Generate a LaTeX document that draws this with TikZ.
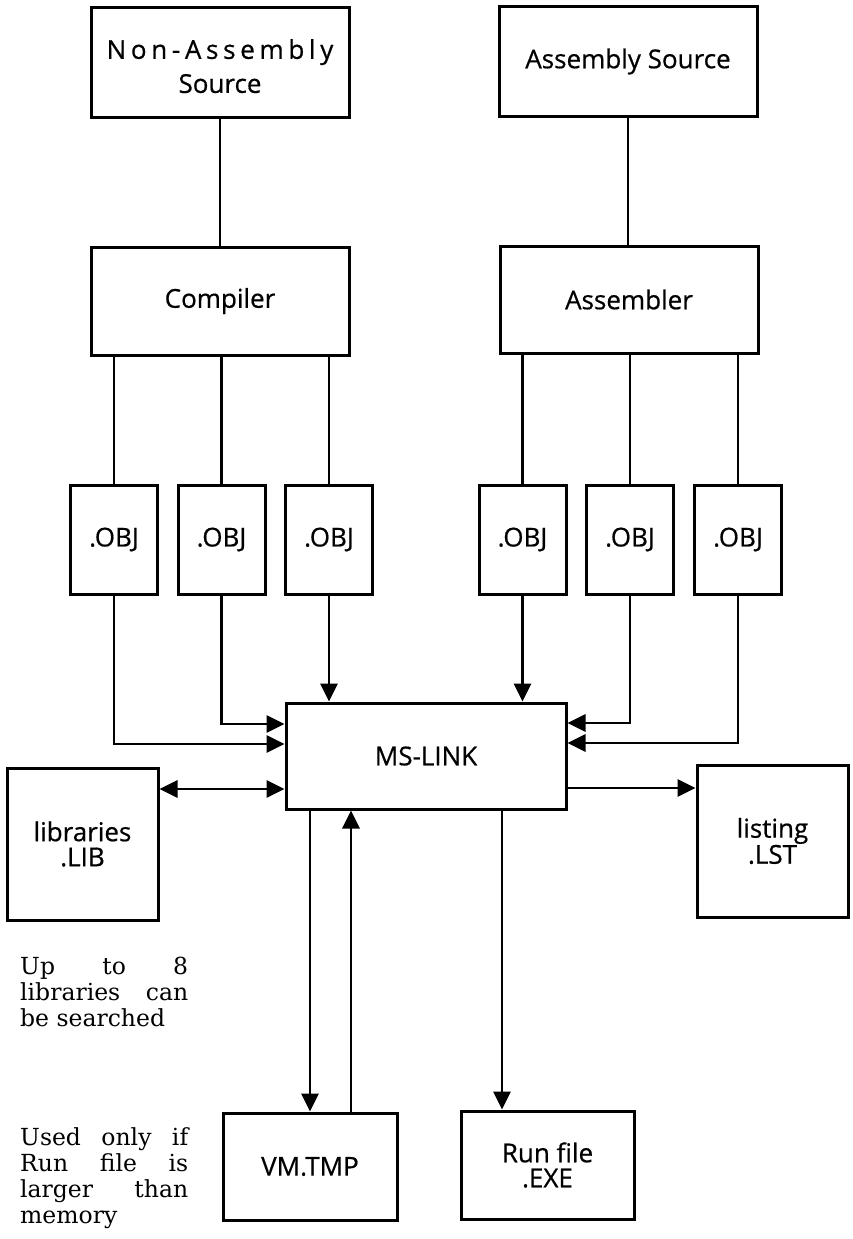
\documentclass[tikz,border=0pt]{standalone}
\usepackage{fontspec}
\setmainfont{DejaVu Serif}
\newfontfamily\boxfont[FakeBold=0.6]{Open Sans}
\newfontfamily\spacedfont[LetterSpace=18,FakeBold=0.6]{Open Sans}
\usetikzlibrary{arrows.meta}

\begin{document}
\begin{tikzpicture}[x=1pt,y=-1pt,
  box/.style={draw, line width=3pt, inner sep=0pt, align=center,
    font=\boxfont\fontsize{26}{25}\selectfont},
  objbox/.style={box, minimum width=87pt, minimum height=109pt},
  conn/.style={line width=2.8pt},
  arr/.style={conn, -{Triangle[length=18pt,width=17pt]}},
  darr/.style={conn, {Triangle[length=18pt,width=17pt]}-{Triangle[length=18pt,width=17pt]}},
  note/.style={anchor=north west, inner sep=0pt, text width=168pt, align=justify,
    font=\fontsize{23.5}{26}\selectfont}
]
\useasboundingbox (0,0) rectangle (853,1239);

% sources
\node[box, minimum width=258pt, minimum height=109pt] (na) at (220,62.5)
  {\rule{0pt}{27pt}{\spacedfont Non-Assembly}\\[8pt]Source};
\node[box, minimum width=258pt, minimum height=109pt] (as) at (628,61.5)
  {Assembly Source};

% translators
\node[box, minimum width=258pt, minimum height=108pt] (comp) at (220,301) {Compiler};
\node[box, minimum width=258pt, minimum height=107pt] (asm) at (629,299.5) {Assembler};

% object files
\node[objbox] (obj1) at (114,539.5) {.OBJ};
\node[objbox] (obj2) at (221.5,539.5) {.OBJ};
\node[objbox] (obj3) at (329,539.5) {.OBJ};
\node[objbox] (obj4) at (522.5,539.5) {.OBJ};
\node[objbox] (obj5) at (630,539.5) {.OBJ};
\node[objbox] (obj6) at (738,539.5) {.OBJ};

% linker and files
\node[box, minimum width=280pt, minimum height=106pt] (link) at (426,756) {MS-LINK};
\node[box, minimum width=151pt, minimum height=152pt] (lib) at (82.5,844) {libraries\\.LIB};
\node[box, minimum width=151pt, minimum height=152pt] (lst) at (772.5,841) {listing\\.LST};
\node[box, minimum width=174pt, minimum height=107pt] (vm) at (310,1166.5) {VM.TMP};
\node[box, minimum width=173pt, minimum height=108pt] (run) at (547.5,1165) {Run file\\.EXE};

% notes
\node[note] (n1) at (20,957)
  {\tolerance=10000\hyphenpenalty=10000 Up to 8\linebreak libraries can\linebreak be searched};
\node[note] (n2) at (20,1127.5)
  {\tolerance=10000\hyphenpenalty=10000 Used only if\linebreak Run file is\linebreak larger than\linebreak memory};

% source -> translator
\draw[conn] (na.south) -- (comp.north);
\draw[conn] (as.south) -- (as.south |- asm.north);

% translator -> objects
\draw[conn] (obj1.north |- comp.south) -- (obj1.north);
\draw[conn] (obj2.north |- comp.south) -- (obj2.north);
\draw[conn] (obj3.north |- comp.south) -- (obj3.north);
\draw[conn] (obj4.north |- asm.south) -- (obj4.north);
\draw[conn] (obj5.north |- asm.south) -- (obj5.north);
\draw[conn] (obj6.north |- asm.south) -- (obj6.north);

% objects -> linker
\draw[arr] (obj1.south) |- ([yshift=12pt]link.west);
\draw[arr] (obj2.south) |- ([yshift=32pt]link.west);
\draw[arr] (obj3.south) -- (obj3.south |- link.north);
\draw[arr] (obj4.south) -- (obj4.south |- link.north);
\draw[arr] (obj5.south) |- ([yshift=33pt]link.east);
\draw[arr] (obj6.south) |- ([yshift=13pt]link.east);

% libraries and listing
\coordinate (lb) at ([yshift=-33pt]link.west);
\draw[darr] (lb -| lib.east) -- (lb);
\coordinate (lr) at ([yshift=-32pt]link.east);
\draw[arr] (lr) -- (lr -| lst.west);

% VM.TMP and run file
\draw[arr] (vm.north |- link.south) -- (vm.north);
\coordinate (vu) at ([xshift=41pt]vm.north);
\draw[arr] (vu) -- (vu |- link.south);
\coordinate (ro) at ([xshift=76pt]link.south);
\draw[arr] (ro) -- (ro |- run.north);
\end{tikzpicture}
\end{document}
